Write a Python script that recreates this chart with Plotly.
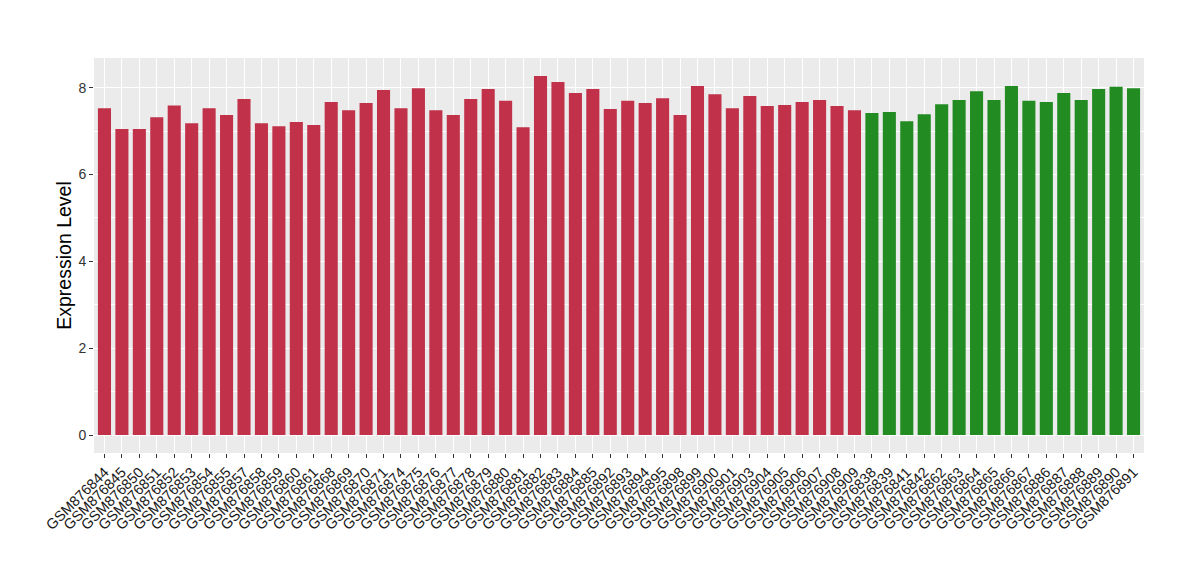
import plotly.graph_objects as go

samples_red = ["GSM876844", "GSM876845", "GSM876850", "GSM876851", "GSM876852", "GSM876853",
               "GSM876854", "GSM876855", "GSM876857", "GSM876858", "GSM876859", "GSM876860",
               "GSM876861", "GSM876868", "GSM876869", "GSM876870", "GSM876871", "GSM876874",
               "GSM876875", "GSM876876", "GSM876877", "GSM876878", "GSM876879", "GSM876880",
               "GSM876881", "GSM876882", "GSM876883", "GSM876884", "GSM876885", "GSM876892",
               "GSM876893", "GSM876894", "GSM876895", "GSM876898", "GSM876899", "GSM876900",
               "GSM876901", "GSM876903", "GSM876904", "GSM876905", "GSM876906", "GSM876907",
               "GSM876908", "GSM876909"]
values_red = [7.53, 7.05, 7.05, 7.32, 7.59, 7.18, 7.53, 7.37, 7.74, 7.18, 7.11, 7.21,
              7.14, 7.67, 7.48, 7.65, 7.95, 7.53, 7.99, 7.48, 7.37, 7.74, 7.97, 7.70,
              7.09, 8.27, 8.13, 7.88, 7.97, 7.51, 7.70, 7.65, 7.76, 7.37, 8.04, 7.85,
              7.53, 7.81, 7.58, 7.60, 7.67, 7.72, 7.58, 7.48]

samples_green = ["GSM876838", "GSM876839", "GSM876841", "GSM876842", "GSM876862", "GSM876863",
                 "GSM876864", "GSM876865", "GSM876866", "GSM876867", "GSM876886", "GSM876887",
                 "GSM876888", "GSM876889", "GSM876890", "GSM876891"]
values_green = [7.42, 7.44, 7.23, 7.39, 7.62, 7.72, 7.92, 7.72, 8.04, 7.70, 7.67, 7.88,
                7.72, 7.97, 8.02, 7.99]

y_ticks = [0, 2, 4, 6, 8]

RED = "#C1314A"
GREEN = "#228B22"

all_samples = samples_red + samples_green

fig = go.Figure()
fig.add_trace(go.Bar(x=samples_red, y=values_red, marker=dict(color=RED, line=dict(width=0)),
                     showlegend=False))
fig.add_trace(go.Bar(x=samples_green, y=values_green, marker=dict(color=GREEN, line=dict(width=0)),
                     showlegend=False))

fig.update_layout(
    width=1200, height=580,
    margin=dict(l=86, r=64, t=50, b=135, autoexpand=False),
    paper_bgcolor="white",
    plot_bgcolor="#EBEBEB",
    bargap=0.25,
    font=dict(family="Liberation Sans, Arial, sans-serif", color="#333333"),
    xaxis=dict(
        categoryorder="array", categoryarray=all_samples,
        range=[-0.6, len(all_samples) - 0.4],
        tickangle=-45,
        showgrid=True, gridcolor="white", gridwidth=1,
        ticks="outside", ticklen=4, tickcolor="#333333", tickwidth=1,
        tickfont=dict(size=14.5, color="#1A1A1A"),
        zeroline=False, showline=False,
    ),
    yaxis=dict(
        title=dict(text="Expression Level", font=dict(size=19.5, color="black"), standoff=1),
        range=[-0.414, 8.685],
        tickvals=y_ticks,
        ticks="outside", ticklen=4, tickcolor="#333333", tickwidth=1,
        tickfont=dict(size=14, color="#333333"),
        showgrid=True, gridcolor="white", gridwidth=1.2,
        minor=dict(dtick=1, tick0=0, showgrid=True, gridcolor="white", gridwidth=0.5),
        zeroline=False, showline=False,
    ),
)

fig.write_html("out.html")
